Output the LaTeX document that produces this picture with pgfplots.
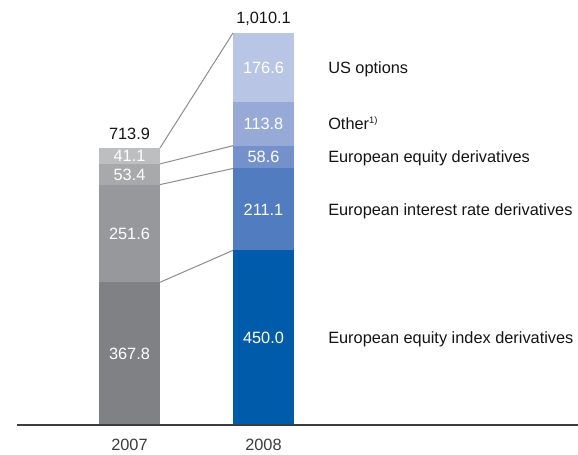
\documentclass[border=0pt]{standalone}
\usepackage{fontspec}
\setmainfont{Liberation Sans}
\usepackage{pgfplots}
\pgfplotsset{compat=1.18}
\definecolor{ga}{HTML}{808184}
\definecolor{gb}{HTML}{97989B}
\definecolor{gc}{HTML}{A8A9AB}
\definecolor{gd}{HTML}{BDBEC0}
\definecolor{ba}{HTML}{005BAA}
\definecolor{bb}{HTML}{517DC0}
\definecolor{bc}{HTML}{7491CB}
\definecolor{bd}{HTML}{96A9D7}
\definecolor{be}{HTML}{B9C5E4}
\definecolor{linec}{HTML}{8C8C8C}
\definecolor{basec}{HTML}{3C3C3C}
\definecolor{txt}{HTML}{141414}
\tikzset{lab/.style={anchor=base, yshift=-4.4pt, inner sep=0pt},
  wl/.style={lab, text=white},
  rl/.style={lab, anchor=base west, text=txt}}
\pgfplotsset{base/.style={scale only axis, width=433.5pt, height=340.5pt,
  xmin=0, xmax=578, ymin=-74.7, ymax=1095.1, hide axis, clip=false,
  at={(0,0)}, anchor=south west}}
\begin{document}
\begin{tikzpicture}[font=\fontsize{12.25}{14}\selectfont]
% 2007 stack
\begin{axis}[base, ybar stacked, bar width=61]
\addplot[fill=ga, draw=none] coordinates {(129.5,367.8)};
\addplot[fill=gb, draw=none] coordinates {(129.5,251.6)};
\addplot[fill=gc, draw=none] coordinates {(129.5,53.4)};
\addplot[fill=gd, draw=none] coordinates {(129.5,41.1)};
\end{axis}
% 2008 stack
\begin{axis}[base, ybar stacked, bar width=61]
\addplot[fill=ba, draw=none] coordinates {(263.5,450.0)};
\addplot[fill=bb, draw=none] coordinates {(263.5,211.1)};
\addplot[fill=bc, draw=none] coordinates {(263.5,58.6)};
\addplot[fill=bd, draw=none] coordinates {(263.5,113.8)};
\addplot[fill=be, draw=none] coordinates {(263.5,176.6)};
\end{axis}
% lines and labels
\begin{axis}[base]
\addplot[basec, line width=1.2pt] coordinates {(17,0) (578,0)};
\addplot[linec, line width=0.75pt] coordinates {(160,367.8) (233,450.0)};
\addplot[linec, line width=0.75pt] coordinates {(160,619.4) (233,661.1)};
\addplot[linec, line width=0.75pt] coordinates {(160,672.8) (233,719.7)};
\addplot[linec, line width=0.75pt] coordinates {(160,713.9) (233,1010.1)};
% segment values 2007
\node[wl] at (axis cs:129.5,183.9) {367.8};
\node[wl] at (axis cs:129.5,493.6) {251.6};
\node[wl] at (axis cs:129.5,646.1) {53.4};
\node[wl] at (axis cs:129.5,693.35) {41.1};
% segment values 2008
\node[wl] at (axis cs:263.5,225.0) {450.0};
\node[wl] at (axis cs:263.5,555.55) {211.1};
\node[wl] at (axis cs:263.5,690.4) {58.6};
\node[wl] at (axis cs:263.5,776.6) {113.8};
\node[wl] at (axis cs:263.5,921.8) {176.6};
% totals
\node[anchor=base, inner sep=0pt, text=txt] at (axis cs:129.5,734.4) {713.9};
\node[anchor=base, inner sep=0pt, text=txt] at (axis cs:263.5,1033.3) {1,010.1};
% years
\node[lab, text=basec] at (axis cs:129.5,-51.5) {2007};
\node[lab, text=basec] at (axis cs:263.5,-51.5) {2008};
% category labels
\node[rl] at (axis cs:328,921.8) {US options};
\node[rl] at (axis cs:328,776.6) {Other\textsuperscript{\fontsize{7}{8}\selectfont 1)}};
\node[rl] at (axis cs:328,690.4) {European equity derivatives};
\node[rl] at (axis cs:328,555.55) {European interest rate derivatives};
\node[rl] at (axis cs:328,225.0) {European equity index derivatives};
\end{axis}
\pgfresetboundingbox
\path[use as bounding box] (0,0) rectangle (433.5pt,340.5pt);
\end{tikzpicture}
\end{document}
